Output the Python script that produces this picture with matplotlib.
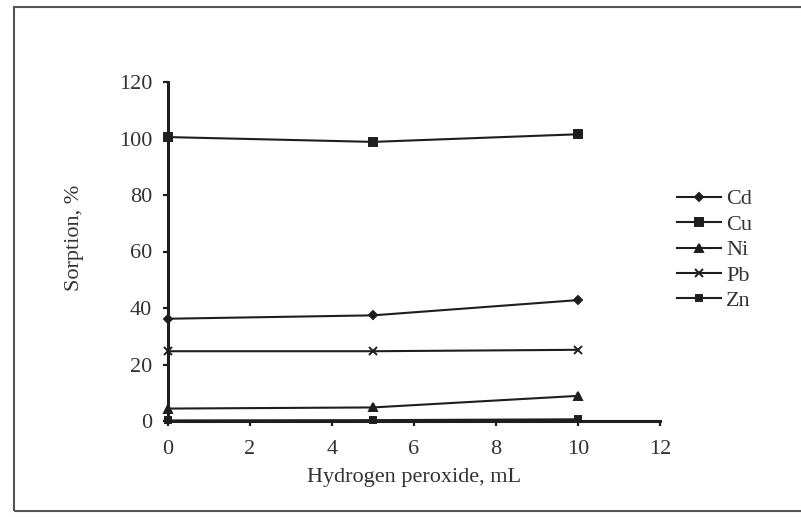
import numpy as np
import matplotlib
matplotlib.use('Agg')
import matplotlib.pyplot as plt
from matplotlib.patches import Rectangle

# --- data ---
h2o2_ml = [0, 5, 10]
cd = [36.2, 37.4, 42.8]
cu = [100.5, 98.8, 101.5]
ni = [4.4, 4.8, 8.9]
pb = [24.7, 24.7, 25.2]
zn = [0.2, 0.3, 0.6]

series = [
    ('Cd', cd, 'D', 4.5),
    ('Cu', cu, 's', 5.5),
    ('Ni', ni, '^', 6),
    ('Pb', pb, 'x', 5.5),
    ('Zn', zn, 's', 4.5),
]

x_ticks = [0, 2, 4, 6, 8, 10, 12]
y_ticks = [0, 20, 40, 60, 80, 100, 120]

INK = '#1e1e1e'
plt.rcParams['font.family'] = ['Liberation Serif', 'DejaVu Serif']

fig = plt.figure(figsize=(8.01, 5.17), dpi=100)
ax = fig.add_axes([168 / 801, 1 - 421 / 517, 492 / 801, 339 / 517])

for name, vals, mk, ms in series:
    ax.plot(h2o2_ml, vals, color=INK, lw=1.5, marker=mk, ms=ms,
            mew=1.4, mfc=INK, mec=INK, label=name, clip_on=False, zorder=3)

ax.set_xlim(0, 12)
ax.set_ylim(0, 120)
ax.set_xticks(x_ticks)
ax.set_yticks(y_ticks)

for s in ['top', 'right']:
    ax.spines[s].set_visible(False)
for s in ['left', 'bottom']:
    ax.spines[s].set_linewidth(2.2)
    ax.spines[s].set_color(INK)

ax.tick_params(axis='both', colors=INK, labelcolor='#333333',
               labelsize=16, width=1.6, length=3.5, direction='out')
ax.tick_params(axis='y', pad=8)
ax.tick_params(axis='x', pad=10)

ax.set_xlabel('Hydrogen peroxide, mL', fontsize=16, color='#333333')
ax.set_ylabel('Sorption, %', fontsize=16, color='#333333')
ax.xaxis.set_label_coords(0.5, -0.14)
ax.yaxis.set_label_coords(-0.17, 0.54)

leg = ax.legend(loc='center left', bbox_to_anchor=(677 / 801, 1 - 250 / 517),
                bbox_transform=fig.transFigure, frameon=False, fontsize=16,
                handlelength=2.0, handletextpad=0.2, labelspacing=0.22,
                borderpad=0, borderaxespad=0)
for t in leg.get_texts():
    t.set_color('#333333')

# outer border of the scanned figure
fig.patches.append(Rectangle((14 / 801, 1 - 511 / 517), 1.0, 504 / 517,
                             transform=fig.transFigure, fill=False,
                             edgecolor='#555555', lw=1.5))

fig.savefig('out.png', dpi=100)
